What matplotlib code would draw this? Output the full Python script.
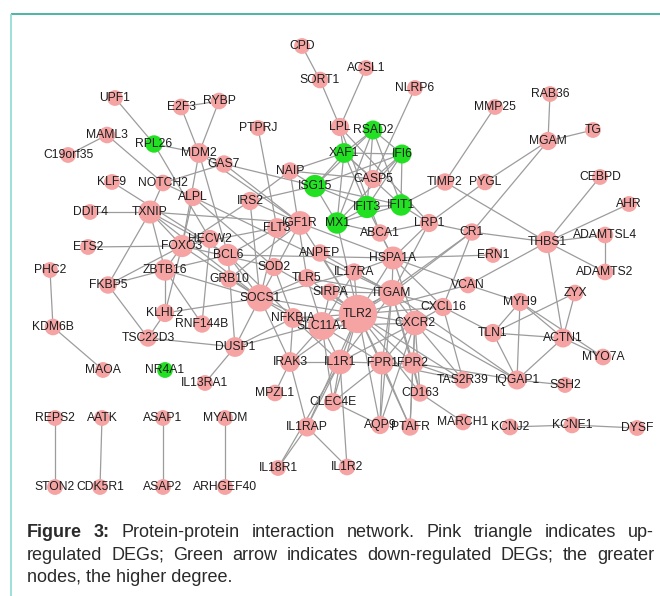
import matplotlib
matplotlib.use('Agg')
import matplotlib.pyplot as plt
from matplotlib.collections import LineCollection

plt.rcParams['font.family'] = ['Liberation Sans', 'DejaVu Sans']

genes = ['CPD', 'SORT1', 'ACSL1', 'NLRP6', 'UPF1', 'E2F3', 'RYBP', 'MMP25', 'RAB36',
         'LPL', 'RSAD2', 'PTPRJ', 'TG', 'MGAM', 'MAML3', 'RPL26', 'C19orf35', 'MDM2',
         'XAF1', 'IFI6', 'GAS7', 'NAIP', 'CASP5', 'TIMP2', 'PYGL', 'CEBPD', 'KLF9',
         'NOTCH2', 'ISG15', 'ALPL', 'IRS2', 'AHR', 'IFIT3', 'IFIT1', 'DDIT4', 'TXNIP',
         'IGF1R', 'MX1', 'FLT3', 'LRP1', 'CR1', 'ABCA1', 'THBS1', 'ADAMTSL4', 'HECW2',
         'FOXO3', 'ETS2', 'BCL6', 'ANPEP', 'ERN1', 'HSPA1A', 'SOD2', 'PHC2', 'ZBTB16',
         'IL17RA', 'ADAMTS2', 'TLR5', 'GRB10', 'FKBP5', 'VCAN', 'SIRPA', 'ITGAM', 'ZYX',
         'SOCS1', 'MYH9', 'CXCL16', 'TLR2', 'KLHL2', 'NFKBIA', 'SLC11A1', 'RNF144B',
         'KDM6B', 'CXCR2', 'TLN1', 'TSC22D3', 'ACTN1', 'DUSP1', 'MYO7A', 'IRAK3', 'IL1R1',
         'FPR1', 'FPR2', 'MAOA', 'NR4A1', 'TAS2R39', 'IQGAP1', 'IL13RA1', 'SSH2', 'MPZL1',
         'CD163', 'CLEC4E', 'REPS2', 'AATK', 'ASAP1', 'MYADM', 'MARCH1', 'AQP9', 'PTAFR',
         'IL1RAP', 'KCNJ2', 'KCNE1', 'DYSF', 'IL1R2', 'IL18R1', 'STON2', 'CDK5R1', 'ASAP2',
         'ARHGEF40']

degree = [1, 2, 1, 1, 1, 2, 2, 1, 1,
          4, 5, 1, 1, 4, 2, 3, 1, 6,
          6, 5, 3, 3, 4, 3, 2, 1, 1,
          2, 9, 4, 4, 1, 9, 8, 1, 10,
          11, 8, 6, 4, 3, 3, 9, 2, 4,
          9, 1, 9, 3, 1, 10, 4, 1, 8,
          3, 2, 4, 3, 3, 2, 3, 14, 2,
          15, 4, 4, 29, 4, 6, 16, 3,
          2, 12, 4, 3, 5, 6, 2, 6, 12,
          10, 8, 1, 1, 3, 5, 1, 1, 2,
          3, 4, 1, 1, 1, 1, 2, 4, 3,
          5, 2, 2, 1, 2, 1, 1, 1, 1,
          1]

down_regulated = ['RSAD2', 'XAF1', 'IFI6', 'ISG15', 'IFIT3', 'IFIT1', 'MX1', 'RPL26', 'NR4A1']

edges = [
    ('CPD', 'SORT1'), ('SORT1', 'LPL'), ('ACSL1', 'LPL'), ('NLRP6', 'CASP5'),
    ('MMP25', 'TIMP2'), ('RAB36', 'MGAM'), ('TG', 'MGAM'), ('MGAM', 'CR1'),
    ('MGAM', 'PYGL'), ('PYGL', 'LRP1'), ('CEBPD', 'THBS1'), ('AHR', 'THBS1'),
    ('ADAMTSL4', 'THBS1'), ('ADAMTSL4', 'ADAMTS2'), ('ADAMTS2', 'THBS1'),
    ('THBS1', 'CR1'), ('THBS1', 'VCAN'), ('THBS1', 'ACTN1'), ('TIMP2', 'THBS1'),
    ('TIMP2', 'IFIT1'), ('UPF1', 'RPL26'), ('RPL26', 'MDM2'), ('RPL26', 'HECW2'),
    ('E2F3', 'RYBP'), ('E2F3', 'MDM2'), ('RYBP', 'MDM2'), ('MAML3', 'NOTCH2'),
    ('C19orf35', 'MAML3'), ('MDM2', 'GAS7'), ('MDM2', 'FOXO3'), ('MDM2', 'BCL6'),
    ('MDM2', 'IGF1R'), ('GAS7', 'ISG15'), ('GAS7', 'IGF1R'), ('NOTCH2', 'GAS7'),
    ('PTPRJ', 'FLT3'), ('NAIP', 'CASP5'), ('NAIP', 'ISG15'), ('NAIP', 'IRS2'),
    ('NAIP', 'TLR5'), ('NAIP', 'XAF1'), ('LPL', 'ABCA1'), ('LPL', 'LRP1'),
    ('LPL', 'XAF1'),
    ('RSAD2', 'XAF1'), ('RSAD2', 'IFI6'), ('RSAD2', 'ISG15'), ('RSAD2', 'IFIT3'),
    ('RSAD2', 'IFIT1'), ('RSAD2', 'MX1'), ('XAF1', 'IFI6'), ('XAF1', 'ISG15'),
    ('XAF1', 'IFIT3'), ('XAF1', 'IFIT1'), ('XAF1', 'MX1'), ('IFI6', 'ISG15'),
    ('IFI6', 'IFIT3'), ('IFI6', 'IFIT1'), ('IFI6', 'MX1'), ('ISG15', 'IFIT3'),
    ('ISG15', 'IFIT1'), ('ISG15', 'MX1'), ('IFIT3', 'IFIT1'), ('IFIT3', 'MX1'),
    ('IFIT1', 'MX1'), ('CASP5', 'XAF1'), ('CASP5', 'IFI6'),
    ('ISG15', 'IRS2'), ('MX1', 'TLR2'), ('IFIT3', 'HSPA1A'), ('IFIT1', 'LRP1'),
    ('KLF9', 'BCL6'), ('DDIT4', 'TXNIP'), ('TXNIP', 'FKBP5'), ('TXNIP', 'FOXO3'),
    ('TXNIP', 'ZBTB16'), ('TXNIP', 'NOTCH2'), ('TXNIP', 'BCL6'), ('TXNIP', 'SOCS1'),
    ('TXNIP', 'IGF1R'), ('ETS2', 'FOXO3'), ('FKBP5', 'ZBTB16'), ('FKBP5', 'FOXO3'),
    ('FKBP5', 'TSC22D3'), ('ZBTB16', 'FOXO3'), ('ZBTB16', 'KLHL2'),
    ('ZBTB16', 'RNF144B'), ('ZBTB16', 'SOCS1'), ('ZBTB16', 'BCL6'),
    ('KLHL2', 'SOCS1'), ('KLHL2', 'FOXO3'), ('KLHL2', 'TSC22D3'),
    ('TSC22D3', 'DUSP1'), ('HECW2', 'RNF144B'), ('GRB10', 'IGF1R'),
    ('IRS2', 'IGF1R'), ('IRS2', 'SOCS1'), ('IRS2', 'FOXO3'), ('FLT3', 'SOCS1'),
    ('FLT3', 'BCL6'), ('SOD2', 'FOXO3'), ('SOD2', 'TLR2'), ('SOD2', 'NFKBIA'),
    ('SOCS1', 'DUSP1'), ('SOCS1', 'NFKBIA'), ('SOCS1', 'TLR2'), ('SOCS1', 'IRAK3'),
    ('SOCS1', 'SLC11A1'), ('SOCS1', 'IGF1R'), ('SOCS1', 'GRB10'), ('SOCS1', 'TLR5'),
    ('SOCS1', 'IL17RA'), ('SOCS1', 'BCL6'), ('DUSP1', 'NFKBIA'), ('DUSP1', 'IL13RA1'),
    ('DUSP1', 'TLR2'), ('DUSP1', 'BCL6'), ('ALPL', 'FOXO3'), ('ALPL', 'ITGAM'),
    ('ALPL', 'SOD2'), ('ALPL', 'NOTCH2'), ('BCL6', 'HSPA1A'), ('BCL6', 'NFKBIA'),
    ('FOXO3', 'IGF1R'), ('FOXO3', 'SOCS1'),
    ('TLR2', 'SLC11A1'), ('TLR2', 'ITGAM'), ('TLR2', 'CXCR2'), ('TLR2', 'FPR1'),
    ('TLR2', 'FPR2'), ('TLR2', 'IL1R1'), ('TLR2', 'SIRPA'), ('TLR2', 'TLR5'),
    ('TLR2', 'IL17RA'), ('TLR2', 'HSPA1A'), ('TLR2', 'NFKBIA'), ('TLR2', 'IRAK3'),
    ('TLR2', 'CD163'), ('TLR2', 'AQP9'), ('TLR2', 'PTAFR'), ('TLR2', 'CLEC4E'),
    ('TLR2', 'IL1RAP'), ('TLR2', 'ANPEP'), ('TLR2', 'CXCL16'), ('TLR2', 'TAS2R39'),
    ('TLR2', 'VCAN'), ('TLR2', 'CR1'), ('TLR2', 'IGF1R'),
    ('ITGAM', 'CXCR2'), ('ITGAM', 'FPR1'), ('ITGAM', 'FPR2'), ('ITGAM', 'SLC11A1'),
    ('ITGAM', 'IL1R1'), ('ITGAM', 'CR1'), ('ITGAM', 'ANPEP'), ('ITGAM', 'HSPA1A'),
    ('ITGAM', 'SIRPA'), ('ITGAM', 'CD163'), ('ITGAM', 'AQP9'), ('ITGAM', 'CXCL16'),
    ('ITGAM', 'IL17RA'), ('ITGAM', 'LRP1'), ('ITGAM', 'IQGAP1'), ('ITGAM', 'TLR5'),
    ('CXCR2', 'FPR1'), ('CXCR2', 'FPR2'), ('CXCR2', 'IL1R1'), ('CXCR2', 'CXCL16'),
    ('CXCR2', 'TAS2R39'), ('CXCR2', 'PTAFR'), ('CXCR2', 'AQP9'), ('CXCR2', 'SLC11A1'),
    ('CXCR2', 'IQGAP1'), ('CXCR2', 'HSPA1A'), ('CXCR2', 'CD163'),
    ('FPR1', 'FPR2'), ('FPR1', 'PTAFR'), ('FPR1', 'AQP9'), ('FPR1', 'SLC11A1'),
    ('FPR1', 'IL1R1'), ('FPR1', 'TAS2R39'), ('FPR1', 'CLEC4E'),
    ('FPR2', 'TAS2R39'), ('FPR2', 'PTAFR'), ('FPR2', 'CD163'), ('FPR2', 'IQGAP1'),
    ('IL1R1', 'IL1RAP'), ('IL1R1', 'IL1R2'), ('IL1R1', 'IRAK3'), ('IL1R1', 'SLC11A1'),
    ('IL1R1', 'CLEC4E'), ('IL1R1', 'NFKBIA'), ('IL1R1', 'IL18R1'),
    ('SLC11A1', 'NFKBIA'), ('SLC11A1', 'IRAK3'), ('SLC11A1', 'SIRPA'),
    ('SLC11A1', 'CLEC4E'), ('SLC11A1', 'TLR5'), ('SLC11A1', 'IL17RA'),
    ('HSPA1A', 'ERN1'), ('HSPA1A', 'ABCA1'), ('HSPA1A', 'LRP1'), ('HSPA1A', 'VCAN'),
    ('HSPA1A', 'CXCL16'), ('HSPA1A', 'IL17RA'), ('HSPA1A', 'IGF1R'),
    ('ABCA1', 'LRP1'), ('ABCA1', 'MX1'), ('CR1', 'LRP1'), ('CR1', 'CXCL16'),
    ('CXCL16', 'TLN1'), ('CXCL16', 'TAS2R39'), ('VCAN', 'MYH9'),
    ('MYH9', 'ACTN1'), ('MYH9', 'TLN1'), ('MYH9', 'IQGAP1'), ('MYH9', 'MYO7A'),
    ('ZYX', 'ACTN1'), ('ZYX', 'TLN1'), ('TLN1', 'ACTN1'), ('TLN1', 'IQGAP1'),
    ('ACTN1', 'IQGAP1'), ('ACTN1', 'MYO7A'), ('IQGAP1', 'SSH2'), ('CD163', 'MARCH1'),
    ('IRAK3', 'IL1RAP'), ('IRAK3', 'NFKBIA'), ('IRAK3', 'MPZL1'),
    ('IL1RAP', 'IL1R2'), ('IL1RAP', 'IL18R1'), ('CLEC4E', 'AQP9'),
    ('KCNJ2', 'KCNE1'), ('KCNE1', 'DYSF'), ('MAOA', 'KDM6B'), ('KDM6B', 'PHC2'),
    ('REPS2', 'STON2'), ('AATK', 'CDK5R1'), ('ASAP1', 'ASAP2'), ('MYADM', 'ARHGEF40'),
]

# node layout, in picture pixels (x, y from top-left)
layout = {
    'CPD': (302, 46), 'SORT1': (320, 80), 'ACSL1': (366, 68), 'NLRP6': (415, 88),
    'UPF1': (115, 98), 'E2F3': (181, 107), 'RYBP': (219, 101), 'MMP25': (495, 107),
    'RAB36': (550, 94), 'LPL': (340, 127), 'RSAD2': (373, 130), 'PTPRJ': (258, 128),
    'TG': (593, 130), 'MGAM': (548, 141), 'MAML3': (107, 135), 'RPL26': (154, 144),
    'C19orf35': (68, 155), 'MDM2': (199, 153), 'XAF1': (344, 153), 'IFI6': (402, 154),
    'GAS7': (224, 164), 'NAIP': (290, 171), 'CASP5': (373, 179), 'TIMP2': (445, 182),
    'PYGL': (485, 182), 'CEBPD': (600, 177), 'KLF9': (112, 182), 'NOTCH2': (163, 183),
    'ISG15': (315, 186), 'ALPL': (193, 197), 'IRS2': (250, 201), 'AHR': (629, 204),
    'IFIT3': (367, 207), 'IFIT1': (401, 205), 'DDIT4': (90, 212), 'TXNIP': (150, 212),
    'IGF1R': (300, 223), 'MX1': (337, 223), 'FLT3': (277, 228), 'LRP1': (429, 223),
    'CR1': (472, 232), 'ABCA1': (380, 233), 'THBS1': (547, 242), 'ADAMTSL4': (605, 235),
    'HECW2': (210, 239), 'FOXO3': (182, 246), 'ETS2': (88, 247), 'BCL6': (228, 255),
    'ANPEP': (320, 253), 'ERN1': (493, 255), 'HSPA1A': (393, 258), 'SOD2': (274, 267),
    'PHC2': (50, 270), 'ZBTB16': (165, 270), 'IL17RA': (354, 272), 'ADAMTS2': (605, 272),
    'TLR5': (307, 278), 'GRB10': (229, 279), 'FKBP5': (108, 285), 'VCAN': (468, 285),
    'SIRPA': (330, 292), 'ITGAM': (392, 293), 'ZYX': (575, 293), 'SOCS1': (260, 298),
    'MYH9': (520, 302), 'CXCL16': (443, 307), 'TLR2': (358, 314), 'KLHL2': (165, 313),
    'NFKBIA': (293, 318), 'SLC11A1': (322, 326), 'RNF144B': (202, 324), 'KDM6B': (53, 327),
    'CXCR2': (415, 323), 'TLN1': (493, 333), 'TSC22D3': (148, 338), 'ACTN1': (563, 338),
    'DUSP1': (235, 347), 'MYO7A': (603, 357), 'IRAK3': (290, 362), 'IL1R1': (340, 362),
    'FPR1': (382, 363), 'FPR2': (413, 363), 'MAOA': (103, 370), 'NR4A1': (165, 370),
    'TAS2R39': (463, 380), 'IQGAP1': (517, 380), 'IL13RA1': (205, 383), 'SSH2': (565, 385),
    'MPZL1': (275, 393), 'CD163': (420, 393), 'CLEC4E': (333, 402), 'REPS2': (55, 418),
    'AATK': (102, 418), 'ASAP1': (163, 418), 'MYADM': (225, 418), 'MARCH1': (463, 422),
    'AQP9': (380, 425), 'PTAFR': (410, 427), 'IL1RAP': (307, 427), 'KCNJ2': (510, 427),
    'KCNE1': (572, 425), 'DYSF': (637, 428), 'IL1R2': (347, 467), 'IL18R1': (278, 468),
    'STON2': (55, 487), 'CDK5R1': (100, 487), 'ASAP2': (163, 487), 'ARHGEF40': (225, 487),
}

caption_lines = [
    [('Figure', True), ('3:', True), ('Protein-protein', False), ('interaction', False),
     ('network.', False), ('Pink', False), ('triangle', False), ('indicates', False),
     ('up-', False)],
    [(w, False) for w in 'regulated DEGs; Green arrow indicates down-regulated DEGs; the greater'.split()],
]
caption_last = 'nodes, the higher degree.'

PINK = '#f5a3a3'
GREEN = '#22e022'

fig = plt.figure(figsize=(6.6, 5.96), dpi=100)
ax = fig.add_axes([0, 0, 1, 1])
ax.set_xlim(0, 660)
ax.set_ylim(596, 0)
ax.axis('off')

# frame lines of the figure box
ax.plot([11, 660], [14, 14], color='#2ea894', lw=1.2, solid_capstyle='butt')
ax.plot([11, 11], [14, 596], color='#8edbd0', lw=1.2, solid_capstyle='butt')

segs = [[layout[a], layout[b]] for a, b in edges]
ax.add_collection(LineCollection(segs, colors='#9c9c9c', linewidths=0.9, zorder=1))

xs = [layout[g][0] for g in genes]
ys = [layout[g][1] for g in genes]
diam = [15 + 0.8 * d for d in degree]          # pixels
sizes = [(d * 0.72) ** 2 for d in diam]
cols = [GREEN if g in down_regulated else PINK for g in genes]
ax.scatter(xs, ys, s=sizes, c=cols, linewidths=0, zorder=2)

for g, x, y in zip(genes, xs, ys):
    ax.text(x, y, g, fontsize=8.7, color='#1e1e1e', ha='center', va='center', zorder=3)

# caption, justified like the journal page
r = fig.canvas.get_renderer()
x0, x1 = 27, 654
for line, yb in zip(caption_lines, [537, 560]):
    objs = [ax.text(0, yb, w, fontsize=13, color='#2a2a2a', va='baseline',
                    fontweight='bold' if b else 'normal') for w, b in line]
    widths = [t.get_window_extent(r).width for t in objs]
    gap = (x1 - x0 - sum(widths)) / (len(objs) - 1)
    x = x0
    for t, w in zip(objs, widths):
        t.set_x(x)
        x += w + gap
ax.text(x0, 582, caption_last, fontsize=13, color='#2a2a2a', va='baseline')

fig.savefig('out.png', dpi=100)
